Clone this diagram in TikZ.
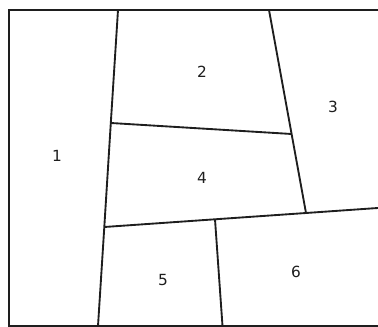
\documentclass[tikz,border=0pt]{standalone}
\usepackage{fontspec}
\setmainfont{DejaVu Sans}
\usetikzlibrary{positioning}
\definecolor{ink}{RGB}{30,30,30}
\begin{document}
\begin{tikzpicture}[x=0.75pt, y=-0.75pt,
  edge/.style={draw=ink, line width=1.4pt},
  region/.style={font=\fontsize{11.5}{13}\selectfont, text=ink}]
\useasboundingbox (0,0) rectangle (378,327);
% frame corners (right side runs off the picture)
\coordinate (tr) at (382,10);
\coordinate (tl) at (9,10);
\coordinate (bl) at (9,326);
\coordinate (br) at (382,326);
\draw[edge] (tr) -- (tl) -- (bl) -- (br);
% cut lines
\coordinate (a1) at (118,10);
\coordinate (a2) at (110.8,123);
\coordinate (a3) at (104.3,227);
\coordinate (a4) at (98,326);
\coordinate (c1) at (269,10);
\coordinate (c2) at (291.6,134);
\coordinate (c3) at (306,213);
\coordinate (d1) at (215,219.3);
\coordinate (d2) at (382,207.7);
\coordinate (e1) at (222.5,326);
\draw[edge] (a1) -- (a2) -- (a3) -- (a4);
\draw[edge] (c1) -- (c2) -- (c3);
\draw[edge] (a2) -- (c2);
\draw[edge] (a3) -- (d1) -- (c3) -- (d2);
\draw[edge] (d1) -- (e1);
% region numbers
\node[region] (r1) at (57,156) {1};
\node[region] (r2) at (202,72) {2};
\node[region] (r3) at (333,107) {3};
\node[region] (r4) at (202,178) {4};
\node[region] (r5) at (163,280) {5};
\node[region] (r6) at (296,272) {6};
\end{tikzpicture}
\end{document}
